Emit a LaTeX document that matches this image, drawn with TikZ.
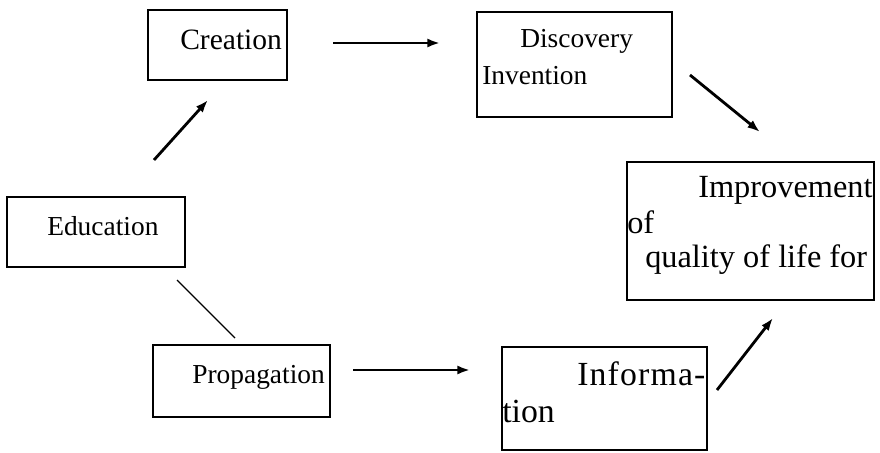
\documentclass[tikz,border=0pt]{standalone}
\usepackage{fontspec}
\setmainfont{Liberation Serif}
\usetikzlibrary{arrows.meta,fit}

\begin{document}
\begin{tikzpicture}[>={Latex[length=9pt,width=6.5pt]},x=0.025cm,y=-0.025cm,
  box/.style={draw,line width=0.9pt,inner sep=0pt},
  lbl/.style={anchor=base west,inner sep=0pt,font=\fontsize{19.5}{22}\selectfont},
  biglbl/.style={lbl,font=\fontsize{23}{26}\selectfont},
  arr/.style={->,line width=2pt}]
  \useasboundingbox (0,0) rectangle (880,453);
  % boxes
  \node[box,fit={(148,10) (287,80)}] (creation) {};
  \node[box,fit={(477,12) (672,117)}] (discovery) {};
  \node[box,fit={(627,162) (874,300)}] (improvement) {};
  \node[box,fit={(7,197) (185,267)}] (education) {};
  \node[box,fit={(153,345) (330,417)}] (propagation) {};
  \node[box,fit={(502,347) (707,450)}] (information) {};
  % texts
  \node[lbl,font=\fontsize{21}{24}\selectfont] (creationtxt) at (180,50) {Creation};
  \node[lbl] (discoverytxt) at (520,48) {Discovery};
  \node[lbl] (inventiontxt) at (482,85) {Invention};
  \node[biglbl] (improvtxt) at (698,197) {Improvement};
  \node[biglbl] (oftxt) at (627,233) {of};
  \node[biglbl] (qualitytxt) at (645,267) {quality of life for};
  \node[lbl] (educationtxt) at (47,235) {Education};
  \node[lbl] (propagationtxt) at (192,383) {Propagation};
  \node[lbl,font=\fontsize{24}{27}\selectfont\addfontfeatures{LetterSpace=3.5}] (informatxt) at (577,385) {Informa-};
  \node[lbl,font=\fontsize{24}{27}\selectfont] (tiontxt) at (502,422) {tion};
  % arrow ends
  \coordinate (c1) at (333,43);  \coordinate (d1) at (440,43);
  \coordinate (d2) at (690,75);  \coordinate (i2) at (760,132);
  \coordinate (e1) at (154,160); \coordinate (c2) at (208,100);
  \coordinate (e2) at (177,280); \coordinate (p1) at (235,338);
  \coordinate (p2) at (353,370); \coordinate (n1) at (470,370);
  \coordinate (n2) at (717,390); \coordinate (i1) at (773,318);
  % arrows
  \draw[arr] (c1) -- (d1);
  \draw[arr] (d2) -- (i2);
  \draw[arr] (e1) -- (c2);
  \draw[line width=0.8pt] (e2) -- (p1);
  \draw[arr] (p2) -- (n1);
  \draw[arr] (n2) -- (i1);
\end{tikzpicture}
\end{document}
